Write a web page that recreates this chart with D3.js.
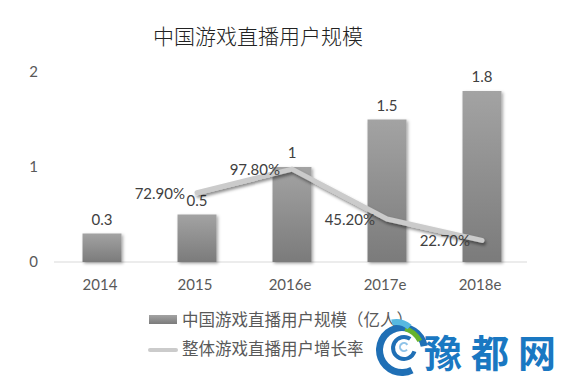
<!DOCTYPE html>
<html>
<head>
<meta charset="utf-8">
<script src="https://cdn.jsdelivr.net/npm/d3@7"></script>
<style>
  html, body { margin: 0; padding: 0; background: #fff; }
  svg { display: block; }
  text { font-family: Lato, "Noto Sans CJK SC", sans-serif; }
</style>
</head>
<body>
<svg id="chart" width="571" height="383"></svg>
<script>
const title = '中国游戏直播用户规模';
const years = ['2014', '2015', '2016e', '2017e', '2018e'];
const users = [0.3, 0.5, 1, 1.5, 1.8];            // 亿人
const growth = [null, 0.729, 0.978, 0.452, 0.227]; // growth rate
const growthLabels = [null, '72.90%', '97.80%', '45.20%', '22.70%'];
const yTicks = [0, 1, 2];
const legendNames = ['中国游戏直播用户规模（亿人）', '整体游戏直播用户增长率'];

const svg = d3.select('#chart');
const W = 571, H = 383;
svg.append('rect').attr('width', W).attr('height', H).attr('fill', '#fff');

const defs = svg.append('defs');
const grad = defs.append('linearGradient').attr('id', 'barGrad')
  .attr('x1', 0).attr('y1', 0).attr('x2', 0).attr('y2', 1);
grad.append('stop').attr('offset', '0%').attr('stop-color', '#a3a3a3');
grad.append('stop').attr('offset', '100%').attr('stop-color', '#7b7b7b');

const shadow = defs.append('filter').attr('id', 'shadow')
  .attr('x', '-30%').attr('y', '-30%').attr('width', '160%').attr('height', '160%');
shadow.append('feDropShadow').attr('dx', 1.5).attr('dy', 1.5).attr('stdDeviation', 1.5)
  .attr('flood-color', '#000').attr('flood-opacity', 0.35);

const lineShadow = defs.append('filter').attr('id', 'lineShadow')
  .attr('x', '-10%').attr('y', '-30%').attr('width', '120%').attr('height', '160%');
lineShadow.append('feDropShadow').attr('dx', 1.5).attr('dy', 2.5).attr('stdDeviation', 1.6)
  .attr('flood-color', '#000').attr('flood-opacity', 0.45);

// title
svg.append('text')
  .attr('x', 258).attr('y', 44)
  .attr('text-anchor', 'middle')
  .attr('font-family', '"Noto Sans CJK SC", sans-serif')
  .attr('font-size', 21)
  .attr('font-weight', 300)
  .attr('fill', '#222')
  .text(title);

const x = d3.scaleBand().domain(years).range([54.5, 529.5]).paddingInner(0.59).paddingOuter(0.295);
const y = d3.scaleLinear().domain([0, 2]).range([262, 72]);

// baseline
svg.append('line')
  .attr('x1', 54).attr('x2', 527)
  .attr('y1', y(0)).attr('y2', y(0))
  .attr('stroke', '#d9d9d9').attr('stroke-width', 1);

// y tick labels
svg.append('g').selectAll('text').data(yTicks).join('text')
  .attr('x', 38).attr('y', d => y(d) + 5)
  .attr('text-anchor', 'end')
  .attr('font-size', 15)
  .attr('fill', '#595959')
  .text(d => d);

// x labels
svg.append('g').selectAll('text').data(years).join('text')
  .attr('x', d => x(d) + x.bandwidth() / 2 - 2)
  .attr('y', 290)
  .attr('text-anchor', 'middle')
  .attr('font-size', 15)
  .attr('fill', '#595959')
  .text(d => d);

// bars
svg.append('g').selectAll('rect').data(users).join('rect')
  .attr('x', (d, i) => x(years[i]))
  .attr('y', d => y(d))
  .attr('width', x.bandwidth())
  .attr('height', d => y(0) - y(d))
  .attr('fill', 'url(#barGrad)')
  .attr('filter', 'url(#shadow)');

// bar value labels
svg.append('g').selectAll('text').data(users).join('text')
  .attr('x', (d, i) => x(years[i]) + x.bandwidth() / 2)
  .attr('y', d => y(d) - 9)
  .attr('text-anchor', 'middle')
  .attr('font-size', 15)
  .attr('fill', '#404040')
  .text(d => d);

// growth line
const pts = growth.map((g, i) => ({ g, i })).filter(d => d.g !== null);
const line = d3.line()
  .x(d => x(years[d.i]) + x.bandwidth() / 2)
  .y(d => y(d.g));
svg.append('path')
  .datum(pts)
  .attr('d', line)
  .attr('fill', 'none')
  .attr('stroke', '#cbcbcb')
  .attr('stroke-width', 5)
  .attr('stroke-linecap', 'round')
  .attr('stroke-linejoin', 'round')
  .attr('filter', 'url(#lineShadow)');

// growth labels (left of points)
svg.append('g').selectAll('text').data(pts).join('text')
  .attr('x', d => x(years[d.i]) + x.bandwidth() / 2 - 12)
  .attr('y', d => y(d.g) + 6)
  .attr('text-anchor', 'end')
  .attr('font-size', 15)
  .attr('fill', '#404040')
  .text(d => growthLabels[d.i]);

// legend
const lg = svg.append('g').attr('font-family', '"Noto Sans CJK SC", sans-serif');
lg.append('rect').attr('x', 149).attr('y', 315).attr('width', 28).attr('height', 9)
  .attr('fill', 'url(#barGrad)');
lg.append('text').attr('x', 182).attr('y', 326).attr('font-size', 16.5).attr('fill', '#595959')
  .attr('font-family', '"Noto Sans CJK SC", sans-serif')
  .text(legendNames[0]);
lg.append('line').attr('x1', 150).attr('x2', 176).attr('y1', 350).attr('y2', 350)
  .attr('stroke', '#cbcbcb').attr('stroke-width', 4).attr('stroke-linecap', 'round');
lg.append('text').attr('x', 182).attr('y', 355).attr('font-size', 16.5).attr('fill', '#595959')
  .attr('font-family', '"Noto Sans CJK SC", sans-serif')
  .text(legendNames[1]);

// watermark
const wm = svg.append('g');
const arc = d3.arc();
wm.append('path').attr('transform', 'translate(402,350)')
  .attr('d', arc({ innerRadius: 19, outerRadius: 26, startAngle: -3.6, endAngle: 1.4 }))
  .attr('fill', '#1f6fb5');
wm.append('path').attr('transform', 'translate(404,348)')
  .attr('d', arc({ innerRadius: 9, outerRadius: 13, startAngle: -4.4, endAngle: 0.6 }))
  .attr('fill', '#1f6fb5');
wm.append('path').attr('transform', 'translate(404,347)')
  .attr('d', arc({ innerRadius: 3, outerRadius: 5, startAngle: -4, endAngle: 1 }))
  .attr('fill', '#8fc3e8');
wm.append('path').attr('transform', 'translate(398,352)')
  .attr('d', arc({ innerRadius: 22, outerRadius: 27, startAngle: 0.3, endAngle: 1.1 }))
  .attr('fill', '#66b32e');
wm.append('path').attr('transform', 'translate(396,343)')
  .attr('d', arc({ innerRadius: 18, outerRadius: 24, startAngle: -0.2, endAngle: 0.7 }))
  .attr('fill', '#56b8e0');
wm.append('text')
  .attr('x', 424).attr('y', 367)
  .attr('font-family', '"Noto Sans CJK SC", sans-serif')
  .attr('font-weight', 'bold')
  .attr('font-size', 38)
  .attr('letter-spacing', 9)
  .attr('fill', '#1a78c2')
  .text('豫都网');
</script>
</body>
</html>
